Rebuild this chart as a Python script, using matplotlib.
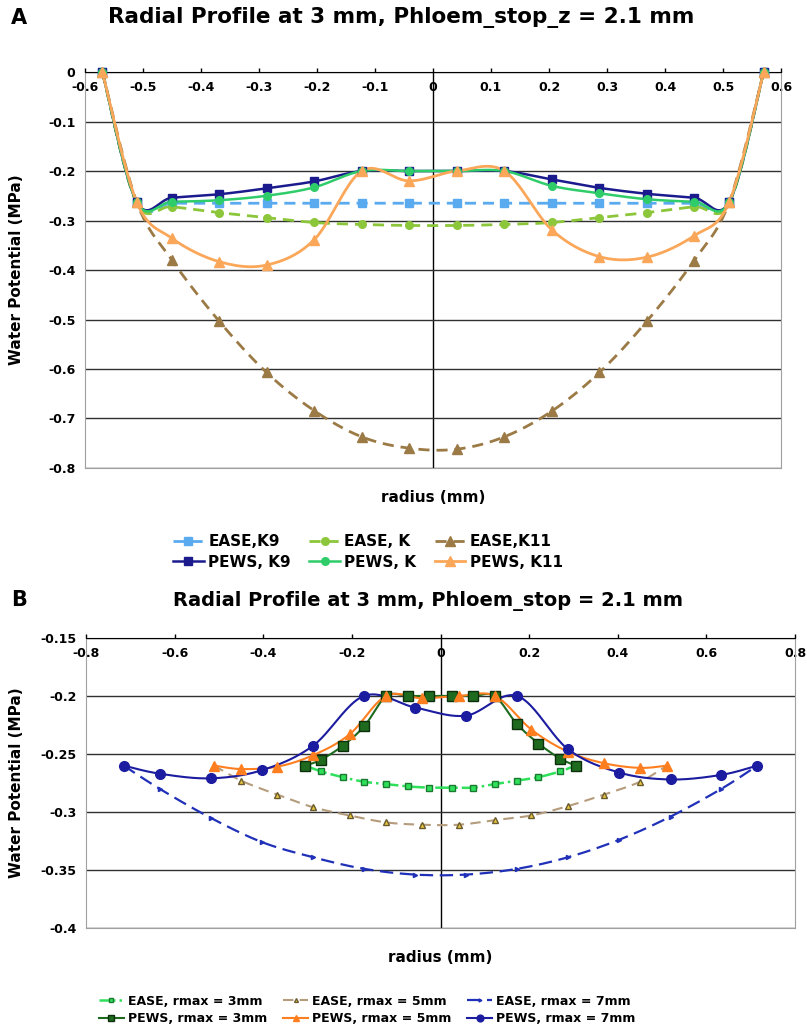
import numpy as np
import matplotlib.pyplot as plt
from matplotlib.lines import Line2D

plt.rcParams['font.family'] = 'DejaVu Sans'
plt.rcParams['font.weight'] = 'bold'
plt.rcParams['axes.unicode_minus'] = False

# ---------- panel A: radius (mm) vs water potential (MPa) ----------
r_a = [-0.57, -0.511, -0.45, -0.369, -0.287, -0.205, -0.123, -0.041,
       0.041, 0.123, 0.205, 0.287, 0.369, 0.45, 0.511, 0.57]
ease_k9 = [0, -0.263, -0.265, -0.265, -0.265, -0.265, -0.265, -0.265,
           -0.265, -0.265, -0.265, -0.265, -0.265, -0.265, -0.263, 0]
ease_k = [0, -0.265, -0.272, -0.284, -0.294, -0.304, -0.308, -0.310,
          -0.310, -0.308, -0.304, -0.294, -0.284, -0.272, -0.265, 0]
ease_k11 = [0, -0.262, -0.380, -0.503, -0.607, -0.684, -0.737, -0.760,
            -0.762, -0.737, -0.685, -0.607, -0.503, -0.381, -0.262, 0]
pews_k9 = [0, -0.262, -0.254, -0.247, -0.235, -0.221, -0.200, -0.200,
           -0.200, -0.200, -0.217, -0.234, -0.246, -0.254, -0.262, 0]
pews_k = [0, -0.262, -0.262, -0.259, -0.250, -0.233, -0.200, -0.200,
          -0.200, -0.200, -0.230, -0.245, -0.257, -0.262, -0.262, 0]
pews_k11 = [0, -0.262, -0.336, -0.383, -0.390, -0.339, -0.200, -0.220,
            -0.200, -0.200, -0.319, -0.373, -0.374, -0.331, -0.262, 0]

xticks_a = ['-0.6', '-0.5', '-0.4', '-0.3', '-0.2', '-0.1', '0',
            '0.1', '0.2', '0.3', '0.4', '0.5', '0.6']
yticks_a = ['0', '-0.1', '-0.2', '-0.3', '-0.4', '-0.5', '-0.6', '-0.7', '-0.8']

# ---------- panel B: three rmax runs ----------
r_3 = [-0.305, -0.27, -0.221, -0.172, -0.122, -0.073, -0.025,
       0.025, 0.073, 0.122, 0.172, 0.221, 0.27, 0.305]
ease_3 = [-0.260, -0.265, -0.270, -0.274, -0.276, -0.278, -0.279,
          -0.279, -0.279, -0.276, -0.273, -0.270, -0.265, -0.260]
pews_3 = [-0.260, -0.255, -0.243, -0.226, -0.200, -0.200, -0.200,
          -0.200, -0.200, -0.200, -0.224, -0.241, -0.254, -0.260]

r_5 = [-0.511, -0.45, -0.369, -0.287, -0.205, -0.123, -0.041,
       0.041, 0.123, 0.205, 0.287, 0.369, 0.45, 0.511]
ease_5 = [-0.260, -0.273, -0.285, -0.296, -0.303, -0.309, -0.311,
          -0.311, -0.307, -0.303, -0.295, -0.285, -0.274, -0.260]
pews_5 = [-0.260, -0.263, -0.261, -0.251, -0.233, -0.200, -0.202,
          -0.200, -0.200, -0.229, -0.248, -0.258, -0.262, -0.260]

r_7 = [-0.715, -0.634, -0.519, -0.403, -0.288, -0.173, -0.057,
       0.057, 0.173, 0.288, 0.403, 0.519, 0.634, 0.715]
ease_7 = [-0.260, -0.280, -0.305, -0.326, -0.339, -0.349, -0.354,
          -0.354, -0.349, -0.339, -0.324, -0.304, -0.280, -0.260]
pews_7 = [-0.260, -0.267, -0.271, -0.264, -0.243, -0.200, -0.210,
          -0.217, -0.200, -0.246, -0.266, -0.272, -0.268, -0.260]

xticks_b = ['-0.8', '-0.6', '-0.4', '-0.2', '0', '0.2', '0.4', '0.6', '0.8']
yticks_b = ['-0.15', '-0.2', '-0.25', '-0.3', '-0.35', '-0.4']


# Excel style smoothed line (bezier through the points)
def smooth(x, y, n=24):
    p = np.column_stack([x, y]).astype(float)
    p = np.vstack([p[0], p, p[-1]])
    segs = []
    t = np.linspace(0, 1, n)[:, None]
    for i in range(1, len(p) - 2):
        p0, p1, p2, p3 = p[i - 1], p[i], p[i + 1], p[i + 2]
        c1 = p1 + (p2 - p0) / 6
        c2 = p2 - (p3 - p1) / 6
        segs.append((1 - t) ** 3 * p1 + 3 * (1 - t) ** 2 * t * c1
                    + 3 * (1 - t) * t ** 2 * c2 + t ** 3 * p2)
    s = np.vstack(segs)
    return s[:, 0], s[:, 1]


def draw(ax, x, y, label, color, marker, ms, ls='-', lw=1.8, mfc=None, mec=None):
    mfc = mfc or color
    mec = mec or color
    sx, sy = smooth(x, y)
    ax.plot(sx, sy, color=color, ls=ls, lw=lw, zorder=3)
    ax.plot(x, y, ls='none', marker=marker, ms=ms, mfc=mfc, mec=mec, zorder=4,
            clip_on=False)
    return Line2D([], [], color=color, ls=ls, lw=lw, marker=marker, ms=ms,
                  mfc=mfc, mec=mec, label=label)


def setup(ax, xt, yt):
    xv = [float(v) for v in xt]
    yv = [float(v) for v in yt]
    ax.set_xlim(xv[0], xv[-1])
    ax.set_ylim(yv[-1], yv[0])
    ax.set_xticks(xv, xt)
    ax.set_yticks(yv, yt)
    ax.xaxis.set_ticks_position('top')
    ax.tick_params(axis='x', direction='out', length=3, width=1, pad=-19,
                   labelsize=9, colors='black')
    ax.tick_params(axis='y', length=0, pad=7, labelsize=9)
    for s in ax.spines.values():
        s.set_color('#a0a0a0')
    ax.spines['top'].set_color('black')
    ax.grid(axis='y', color='#303030', lw=1)
    ax.axvline(0, color='black', lw=1, zorder=1)
    ax.set_xlabel('radius (mm)', fontsize=11, fontweight='bold', labelpad=16)
    ax.set_ylabel('Water Potential (MPa)', fontsize=11, fontweight='bold')


fig = plt.figure(figsize=(8.07, 10.29), dpi=100)

# ---------- panel A ----------
ax1 = fig.add_axes([0.1053, 0.5452, 0.8625, 0.3848])
setup(ax1, xticks_a, yticks_a)
ax1.yaxis.set_label_coords(-0.088, 0.5)
h_a = [
    draw(ax1, r_a, ease_k9, 'EASE,K9', '#5aaaf0', 's', 5.5, ls=(0, (4, 2.5)), lw=2),
    draw(ax1, r_a, ease_k, 'EASE, K', '#8cc63a', 'o', 5.5, ls=(0, (4, 2.5)), lw=2),
    draw(ax1, r_a, ease_k11, 'EASE,K11', '#9b7a45', '^', 7, ls=(0, (4, 2.5)), lw=2),
    draw(ax1, r_a, pews_k9, 'PEWS, K9', '#1b1b8e', 's', 5.5),
    draw(ax1, r_a, pews_k, 'PEWS, K', '#2fcc6a', 'o', 5.5),
    draw(ax1, r_a, pews_k11, 'PEWS, K11', '#fba75a', '^', 7, lw=2),
]
order = [0, 3, 1, 4, 2, 5]
fig.legend([h_a[i] for i in order], [h_a[i].get_label() for i in order],
           loc='center', bbox_to_anchor=(0.456, 0.4635), ncol=3, frameon=False,
           prop={'size': 11, 'weight': 'bold'}, handlelength=2.0,
           handletextpad=0.3, columnspacing=1.2, labelspacing=0.35)

fig.text(0.497, 1 - 18 / 1029, 'Radial Profile at 3 mm, Phloem_stop_z = 2.1 mm',
         ha='center', va='center', fontsize=15.5, fontweight='bold')
fig.text(11 / 807, 1 - 18 / 1029, 'A', ha='left', va='center', fontsize=15,
         fontweight='bold')

# ---------- panel B ----------
ax2 = fig.add_axes([0.1066, 0.0982, 0.8786, 0.2818])
setup(ax2, xticks_b, yticks_b)
ax2.yaxis.set_label_coords(-0.087, 0.5)
h_b = [
    draw(ax2, r_3, ease_3, 'EASE, rmax = 3mm', '#2ee05a', 's', 4, ls='-.', lw=1.8,
         mec='#1a7a30'),
    draw(ax2, r_5, ease_5, 'EASE, rmax = 5mm', '#b59c7c', '^', 4, ls=(0, (5, 3)),
         lw=1.5, mfc='#e8c83c', mec='#6a5a30'),
    draw(ax2, r_7, ease_7, 'EASE, rmax = 7mm', '#2030b8', '>', 3, ls=(0, (6, 3)),
         lw=1.6),
    draw(ax2, r_3, pews_3, 'PEWS, rmax = 3mm', '#1e6a1e', 's', 7, lw=1.5,
         mec='#0c300c'),
    draw(ax2, r_5, pews_5, 'PEWS, rmax = 5mm', '#ff7f20', '^', 7, lw=1.5),
    draw(ax2, r_7, pews_7, 'PEWS, rmax = 7mm', '#1c1ca0', 'o', 7, lw=1.5),
]
fig.legend([h_b[i] for i in order], [h_b[i].get_label() for i in order],
           loc='center', bbox_to_anchor=(0.455, 0.0185), ncol=3, frameon=False,
           prop={'size': 9, 'weight': 'bold'}, handlelength=2.0, markerscale=0.7,
           handletextpad=0.3, columnspacing=1.3, labelspacing=0.35)

fig.text(0.53, 1 - 601 / 1029, 'Radial Profile at 3 mm, Phloem_stop = 2.1 mm',
         ha='center', va='center', fontsize=14, fontweight='bold')
fig.text(11 / 807, 1 - 600 / 1029, 'B', ha='left', va='center', fontsize=15,
         fontweight='bold')

fig.savefig('out.png', dpi=100)
